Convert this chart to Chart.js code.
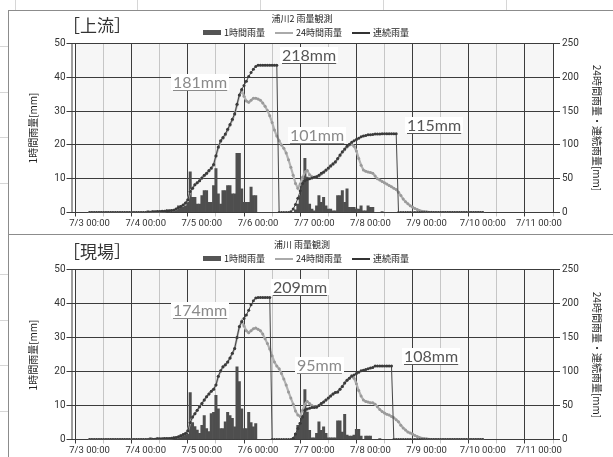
<!DOCTYPE html>
<html>
<head>
<meta charset="utf-8">
<script src="https://cdn.jsdelivr.net/npm/chart.js@4.4.0/dist/chart.umd.min.js"></script>
<style>
  body { margin: 0; width: 613px; height: 457px; overflow: hidden; background: #fff; position: relative;
         font-family: "Noto Sans CJK JP", sans-serif; }
  .panel { position: absolute; left: 8px; width: 640px; border: 1px solid #8c8c8c; box-sizing: border-box; }
  .xl { position: absolute; background: #d6d6d6; }
  canvas { position: absolute; left: 0; }
  .t { position: absolute; white-space: nowrap; color: #222; line-height: 1; }
  .ttl { font-size: 9px; transform: translateX(-50%); }
  .lg { font-size: 9px; display: flex; align-items: center; }
  .lg i { display: inline-block; width: 18px; margin: 0 3px 0 10px; }
  .sec { font-size: 17px; color: #333; }
  .ax { font-size: 10px; }
  .mm { font-family: Lato, "Open Sans", sans-serif; font-size: 16px; background: #fff; padding: 0 2px;
        text-decoration: underline; text-decoration-thickness: 1px; text-underline-offset: 2px; }
  .g { color: #8a8a8a; }
  .d { color: #555; }
</style>
</head>
<body>
<div class="xl" style="left:15px;top:0;width:1px;height:10px"></div>
<div class="xl" style="left:137px;top:0;width:1px;height:10px"></div>
<div class="xl" style="left:260px;top:0;width:1px;height:10px"></div>
<div class="xl" style="left:383px;top:0;width:1px;height:10px"></div>
<div class="xl" style="left:506px;top:0;width:1px;height:10px"></div>
<div class="xl" style="left:0;top:46px;width:8px;height:1px"></div>
<div class="xl" style="left:0;top:92px;width:8px;height:1px"></div>
<div class="xl" style="left:0;top:137px;width:8px;height:1px"></div>
<div class="xl" style="left:0;top:183px;width:8px;height:1px"></div>
<div class="xl" style="left:0;top:274px;width:8px;height:1px"></div>
<div class="xl" style="left:0;top:320px;width:8px;height:1px"></div>
<div class="xl" style="left:0;top:365px;width:8px;height:1px"></div>
<div class="xl" style="left:0;top:411px;width:8px;height:1px"></div>

<div class="panel" style="top:10px;height:225px"></div>
<div class="panel" style="top:234px;height:240px"></div>

<canvas id="cU" width="613" height="235" style="top:0"></canvas>
<canvas id="cG" width="613" height="227" style="top:230px"></canvas>

<!-- 上流 -->
<div class="t ttl" style="left:302px;top:14px">浦川2 雨量観測</div>
<div class="t lg" style="left:193px;top:28px">
  <i style="height:5px;background:#555"></i>1時間雨量
  <i style="height:2px;background:#aaa"></i>24時間雨量
  <i style="height:2px;background:#333"></i>連続雨量
</div>
<div class="t sec" style="left:63px;top:16px">［上流］</div>
<div class="t ax" style="left:33px;top:128px;transform:translate(-50%,-50%) rotate(-90deg)">1時間雨量[mm]</div>
<div class="t ax" style="left:597px;top:128px;transform:translate(-50%,-50%) rotate(90deg)">24時間雨量・連続雨量[mm]</div>
<div class="t mm g" style="left:171px;top:74px">181mm</div>
<div class="t mm d" style="left:280px;top:47px">218mm</div>
<div class="t mm g" style="left:288px;top:127px">101mm</div>
<div class="t mm d" style="left:405px;top:117px">115mm</div>

<!-- 現場 -->
<div class="t ttl" style="left:302px;top:240px">浦川 雨量観測</div>
<div class="t lg" style="left:193px;top:254px">
  <i style="height:5px;background:#555"></i>1時間雨量
  <i style="height:2px;background:#aaa"></i>24時間雨量
  <i style="height:2px;background:#333"></i>連続雨量
</div>
<div class="t sec" style="left:63px;top:242px">［現場］</div>
<div class="t ax" style="left:33px;top:355px;transform:translate(-50%,-50%) rotate(-90deg)">1時間雨量[mm]</div>
<div class="t ax" style="left:597px;top:355px;transform:translate(-50%,-50%) rotate(90deg)">24時間雨量・連続雨量[mm]</div>
<div class="t mm g" style="left:171px;top:302px">174mm</div>
<div class="t mm d" style="left:271px;top:279px">209mm</div>
<div class="t mm g" style="left:295px;top:357px">95mm</div>
<div class="t mm d" style="left:402px;top:348px">108mm</div>

<script>
// x軸ラベル (0時間目 = 7/3 00:00、24時間ごと)
const dateLabels = ['7/3 00:00', '7/4 00:00', '7/5 00:00', '7/6 00:00', '7/7 00:00',
                    '7/8 00:00', '7/9 00:00', '7/10 00:00', '7/11 00:00'];

// 上流: 1時間雨量 [mm] (1時間ごと、7/3 00:00 〜 7/10 00:00)
const rainU = [
  0,0,0,0,0,0,0,0,0,0,0,0,0,0,0,0,0,0,0,0,0,0,0,0,
  0,0.5,0,0.5,0,0.5,0,0.5,0,0.5,0,0.5,0.5,1,2,1.5,1.5,2,3,12,4.5,4.5,2.5,2.5,
  5,6.5,6.5,3,3,8,13,5.5,2.5,6.5,6.5,8,8,5.5,5.5,17.5,17.5,7,3,3,3,7.5,5,5,
  0,0,0,0,0,0,0,0,0,0,0,0,0,0,0,0,0.8,2.5,5,9.5,16,10.5,2.5,1,
  0.5,2,5,3,4.5,2,1,1,0.5,0.5,5,5,6.5,3,7,1.5,1.5,1.5,1,1,2,0.5,0.5,2,
  1.5,1.5,0,0,0,0.3,0,0,0,0,0,0,0,0,0,0,0,0,0,0,0,0,0,0,
  0,0,0,0,0,0,0,0,0,0,0,0,0,0,0,0,0,0,0,0,0,0,0,0,
  0
];
// 上流: 24時間雨量 [mm]
const sum24U = [
  0,0,0,0,0,0,0,0,0,0,0,0,0,0,0,0,0,0,0,0,0,0,0,0,
  0,0.5,0.5,1,1,1.5,1.5,2,2,2.5,2.5,3,3.5,5,7.5,9,11,14,19,31,36,41,44,47,
  51,54.5,57.5,61.5,65,70,83,96,105,110,115,122,129,137,145,159,173,181,172,165,163,166,169,169,
  168,166,162,157,151,143,133,122,113,106,100,95,88,78,67,55,43,36,42,52,60,62,56,53,
  52,53,54,57,59,62,65,68,71,74,79,84,89,93,97,100,101,98,91,80,70,63,61,60,
  59,58,54,50,48,46,44,42,40,38,36,34,30,25,20,16,13,10,8,6,4.5,3,2,1.5,
  1,0.5,0.5,0,0,0,0,0,0,0,0,0,0,0,0,0,0,0,0,0,0,0,0,0,
  0
];
// 上流: 連続雨量 [mm]
const contU = [
  0,0,0,0,0,0,0,0,0,0,0,0,0,0,0,0,0,0,0,0,0,0,0,0,
  0,0.5,0.5,1,1,1.5,1.5,2,2,2.5,2.5,3,3.5,5,7.5,9,11,14,19,31,36,41,44,47,
  51,55,58,62,66,71,84,97,106,111,116,123,130,138,146,160,174,182,188,194,201,207,212,216,
  218,218,218,218,218,218,218,218,218,0,0,0,0,0,1,5,12,21,32,43,47,49,50,51,
  52,53,55,58,60,63,66,69,72,75,80,85,90,94,98,101,104,106,108,110,112,113,114,115,
  115,115.5,116,116,116,116.5,116.5,116.5,116.5,116.5,116.5,116.5,0,0,0,0,0,0,0,0,0,0,0,0,
  0,0,0,0,0,0,0,0,0,0,0,0,0,0,0,0,0,0,0,0,0,0,0,0,
  0
];

// 現場: 1時間雨量 [mm]
const rainG = [
  0,0,0,0,0,0,0,0,0,0,0,0,0,0,0,0,0,0,0,0,0,0,0,0,
  0,0,0.5,0,0,0.5,0,0,0.5,0,0,0.5,0.5,0.5,0.8,1.3,1.3,1.3,1.5,13.8,5,3.8,2.8,1.8,
  4.2,7,3.2,2.3,7.6,8,13,9,3.2,3.2,5.2,8,7,6.2,3.7,21.4,17,9,3.2,3.2,8,5,3.7,4.7,
  0,0,0,0,0,0,0,0,0,0,0,0,0,0,0,0,1.8,4.2,5,7.2,14.7,8.1,2.7,0.5,
  0.5,1.8,5.2,2.7,3.7,1.8,0.5,0.5,0.5,0.5,5.5,5.5,2.2,7.4,1.3,1,1,1.3,3,3,1,0,1,1,
  1,0,0,0,0.3,0,0,0,0,0,0,0,0,0,0,0,0,0,0,0,0,0,0,0,
  0,0,0,0,0,0,0,0,0,0,0,0,0,0,0,0,0,0,0,0,0,0,0,0,
  0
];
// 現場: 24時間雨量 [mm]
const sum24G = [
  0,0,0,0,0,0,0,0,0,0,0,0,0,0,0,0,0,0,0,0,0,0,0,0,
  0,0,0.5,0.5,0.5,1,1,1,1.5,1.5,1.5,2,2.5,3,4,5.5,7.5,9,13,25,33,38,43,48,
  53,58,63,67,71,74,80,92.5,100.5,106.5,109.5,113.5,119.5,126.5,133.5,149.5,165.5,174,167,160,157,160,163,164,
  162,160,155,148,141,133,123,114,108,104,97,89,80,70,61,52,42,36,34,43,52,56,53,50,
  48,48,50,53,55,58,61,64,67,69,70,74,78,83,87,90,94,90,82,72,64,58,56,55,
  54,54,52,48,44,41,39,37,36,34,32,29,26,21,17,14,11,9.5,8,6,4.5,3,2,1.5,
  1,0.5,0,0,0,0,0,0,0,0,0,0,0,0,0,0,0,0,0,0,0,0,0,0,
  0
];
// 現場: 連続雨量 [mm]
const contG = [
  0,0,0,0,0,0,0,0,0,0,0,0,0,0,0,0,0,0,0,0,0,0,0,0,
  0,0,0.5,0.5,0.5,1,1,1,1.5,1.5,1.5,2,2.5,3,4,5.5,7.5,9,13,25,33,38,43,48,
  53,58,63,67,71,74,80,93,101,107,110,114,120,127,134,150,166,173,178,183,190,198,204,208,
  209,209,209,209,209,209,0,0,0,0,0,0,0,0,0,2,8,16,24,33,43,45,46,47,
  47,47.5,50,53,55,58,61,64,67,69,70,74,78,83,87,90,93,95,97,99,101,102,103,104,
  105,106,108,108,108,108,108,108,108,108,0,0,0,0,0,0,0,0,0,0,0,0,0,0,
  0,0,0,0,0,0,0,0,0,0,0,0,0,0,0,0,0,0,0,0,0,0,0,0,
  0
];

const GRID = '#3c3c3c';
const tickFont = { family: 'Roboto, sans-serif', size: 9.5 };

// プロットエリアの背景と左軸の二重線
const plotBg = {
  id: 'plotBg',
  beforeDraw(chart) {
    const a = chart.chartArea, c = chart.ctx;
    c.save();
    c.fillStyle = '#f6f6f6';
    c.fillRect(a.left, a.top, a.right - a.left, a.bottom - a.top);
    c.restore();
  },
  afterDraw(chart) {
    const a = chart.chartArea, c = chart.ctx;
    c.save();
    c.strokeStyle = GRID;
    c.lineWidth = 1;
    c.beginPath();
    c.moveTo(a.left - 3.5, a.top);
    c.lineTo(a.left - 3.5, a.bottom);
    c.stroke();
    c.restore();
  }
};

function pts(arr) {
  return arr.map((v, i) => ({ x: i, y: v }));
}

function dibujar(id, rain, sum24, cont, area) {
  const cv = document.getElementById(id);
  const W = cv.width, H = cv.height;
  return new Chart(cv, {
    data: {
      datasets: [
        {
          type: 'line', label: '連続雨量', data: pts(cont), yAxisID: 'y2',
          borderColor: '#444', borderWidth: 1, pointRadius: 1.5,
          pointBackgroundColor: '#3a3a3a', pointBorderWidth: 0, order: 1
        },
        {
          type: 'line', label: '24時間雨量', data: pts(sum24), yAxisID: 'y2',
          borderColor: '#b2b2b2', borderWidth: 2.2, pointRadius: 1.5,
          pointBackgroundColor: '#9a9a9a', pointBorderWidth: 0, order: 2
        },
        {
          type: 'bar', label: '1時間雨量', data: pts(rain), yAxisID: 'y',
          backgroundColor: '#4e4e4e', barPercentage: 1, categoryPercentage: 1, order: 3
        }
      ]
    },
    options: {
      responsive: false,
      animation: false,
      layout: { padding: { top: area.top, left: 0, right: 0, bottom: 0 } },
      plugins: { legend: { display: false }, tooltip: { enabled: false } },
      scales: {
        x: {
          type: 'linear', min: 0, max: 192,
          afterFit: s => { s.height = H - area.bottom; },
          ticks: {
            stepSize: 12, autoSkip: false, maxRotation: 0, padding: 1,
            font: tickFont, color: '#333',
            callback: v => (v % 24 === 0 ? dateLabels[v / 24] : '')
          },
          grid: {
            color: c => (c.tick && c.tick.value % 24 === 0 ? GRID : '#c6c6c6'),
            tickLength: 4
          },
          border: { color: GRID }
        },
        y: {
          position: 'left', min: 0, max: 50,
          afterFit: s => { s.width = area.left; },
          ticks: { stepSize: 10, padding: 1, font: { family: 'Roboto, sans-serif', size: 10 }, color: '#333' },
          grid: { color: GRID, tickLength: 9 },
          border: { color: GRID }
        },
        y2: {
          position: 'right', min: 0, max: 250,
          afterFit: s => { s.width = W - area.right; },
          ticks: { stepSize: 50, padding: 2, font: { family: 'Roboto, sans-serif', size: 10 }, color: '#333' },
          grid: { drawOnChartArea: false, color: GRID, tickLength: 7 },
          border: { color: GRID }
        }
      }
    },
    plugins: [plotBg]
  });
}

dibujar('cU', rainU, sum24U, contU, { left: 75.5, right: 553, top: 43.5, bottom: 212.5 });
dibujar('cG', rainG, sum24G, contG, { left: 75.5, right: 553, top: 39.5, bottom: 209.5 });
</script>
</body>
</html>
